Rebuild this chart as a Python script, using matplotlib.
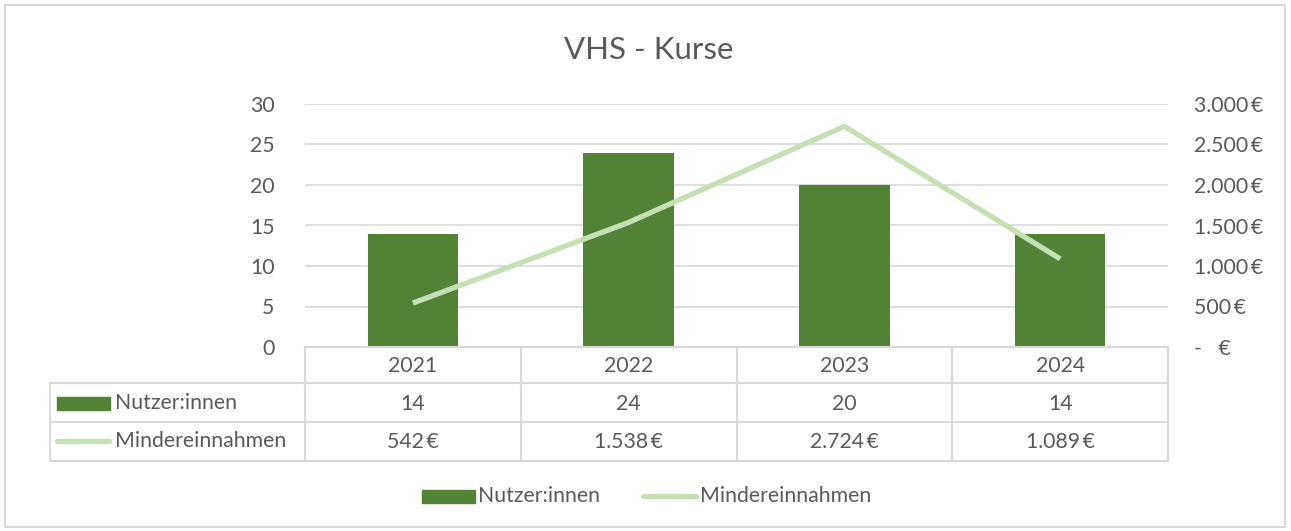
import matplotlib
matplotlib.use("Agg")
import matplotlib.pyplot as plt
from matplotlib.lines import Line2D
from matplotlib.patches import Rectangle

years = ["2021", "2022", "2023", "2024"]
nutzer = [14, 24, 20, 14]
minder = [542, 1538, 2724, 1089]
left_ticks = [0, 5, 10, 15, 20, 25, 30]
right_ticks = [0, 500, 1000, 1500, 2000, 2500, 3000]

BAR = "#548235"
LINE = "#C5E0B4"
TXT = "#595959"
GRID = "#D9D9D9"
FONT = ["Lato", "DejaVu Sans"]
plt.rcParams["font.family"] = FONT
FS = 15.3

W, H = 1291, 531
fig = plt.figure(figsize=(W / 100, H / 100), dpi=100)

def fx(x):
    return x / W

def fy(y):
    return 1 - y / H

def eur(v):
    if v == 0:
        return "-   €"
    return f"{v:,.0f}\u2009€".replace(",", ".")

# outer border
fig.add_artist(Rectangle((fx(5), fy(527)), fx(1280), (522) / H, transform=fig.transFigure,
                         fill=False, edgecolor="#D9D9D9", linewidth=1.5))

L, R, T, B = 305, 1168, 104, 347
ax = fig.add_axes([fx(L), fy(B), fx(R - L), (B - T) / H])
x = list(range(len(years)))
ax.bar(x, nutzer, width=0.42, color=BAR, zorder=3)
ax.set_xlim(-0.5, len(years) - 0.5)
ax.set_ylim(0, 30)
ax.set_yticks(left_ticks)
ax.set_yticklabels([str(t) for t in left_ticks])
ax.grid(axis="y", color=GRID, linewidth=1.2, zorder=0)
ax.set_xticks([])
for s in ax.spines.values():
    s.set_visible(False)
ax.tick_params(axis="y", length=0, pad=22, labelsize=FS, labelcolor=TXT)

ax2 = ax.twinx()
ax2.plot(x, minder, color=LINE, linewidth=3.8, solid_capstyle="butt", zorder=4)
ax2.set_ylim(0, 3000)
ax2.set_yticks(right_ticks)
ax2.set_yticklabels([eur(t) for t in right_ticks])
for s in ax2.spines.values():
    s.set_visible(False)
ax2.tick_params(axis="y", length=0, pad=19, labelsize=FS, labelcolor=TXT)
for lab in ax2.get_yticklabels():
    lab.set_horizontalalignment("left")

fig.text(fx(649), fy(50), "VHS - Kurse", ha="center", va="center", fontsize=22.5, color=TXT)

# data table
def hline(y, x0, x1):
    fig.add_artist(Line2D([fx(x0), fx(x1)], [fy(y), fy(y)], transform=fig.transFigure,
                          color=GRID, linewidth=1.5))

def vline(xp, y0, y1):
    fig.add_artist(Line2D([fx(xp), fx(xp)], [fy(y0), fy(y1)], transform=fig.transFigure,
                          color=GRID, linewidth=1.5))

fig.canvas.draw()
col_x = [ax.transData.transform((i, 0))[0] for i in x]
edges = [ax.transData.transform((i - 0.5, 0))[0] for i in range(len(years) + 1)]

hline(347, L, R)
for yy in (383, 422, 461):
    hline(yy, 50, R)
for e in edges:
    vline(e, 347, 461)
vline(50, 383, 461)

for i, cx in enumerate(col_x):
    xf = cx / W
    fig.text(xf, fy(366), years[i], ha="center", va="center", fontsize=FS, color=TXT)
    fig.text(xf, fy(404), str(nutzer[i]), ha="center", va="center", fontsize=FS, color=TXT)
    fig.text(xf, fy(442), eur(minder[i]), ha="center", va="center", fontsize=FS, color=TXT)

fig.add_artist(Rectangle((fx(57), fy(410)), fx(53), 13 / H, transform=fig.transFigure,
                         color=BAR))
fig.text(fx(115), fy(403), "Nutzer:innen", ha="left", va="center", fontsize=FS, color=TXT)
fig.add_artist(Line2D([fx(57), fx(109)], [fy(441), fy(441)], transform=fig.transFigure,
                      color=LINE, linewidth=3.8, solid_capstyle="round"))
fig.text(fx(115), fy(441), "Mindereinnahmen", ha="left", va="center", fontsize=FS, color=TXT)

# legend
fig.add_artist(Rectangle((fx(422), fy(503)), fx(53), 13 / H, transform=fig.transFigure,
                         color=BAR))
fig.text(fx(478), fy(496), "Nutzer:innen", ha="left", va="center", fontsize=FS, color=TXT)
fig.add_artist(Line2D([fx(643), fx(696)], [fy(496), fy(496)], transform=fig.transFigure,
                      color=LINE, linewidth=3.8, solid_capstyle="round"))
fig.text(fx(700), fy(496), "Mindereinnahmen", ha="left", va="center", fontsize=FS, color=TXT)

fig.savefig("out.png", dpi=100, facecolor="white")
